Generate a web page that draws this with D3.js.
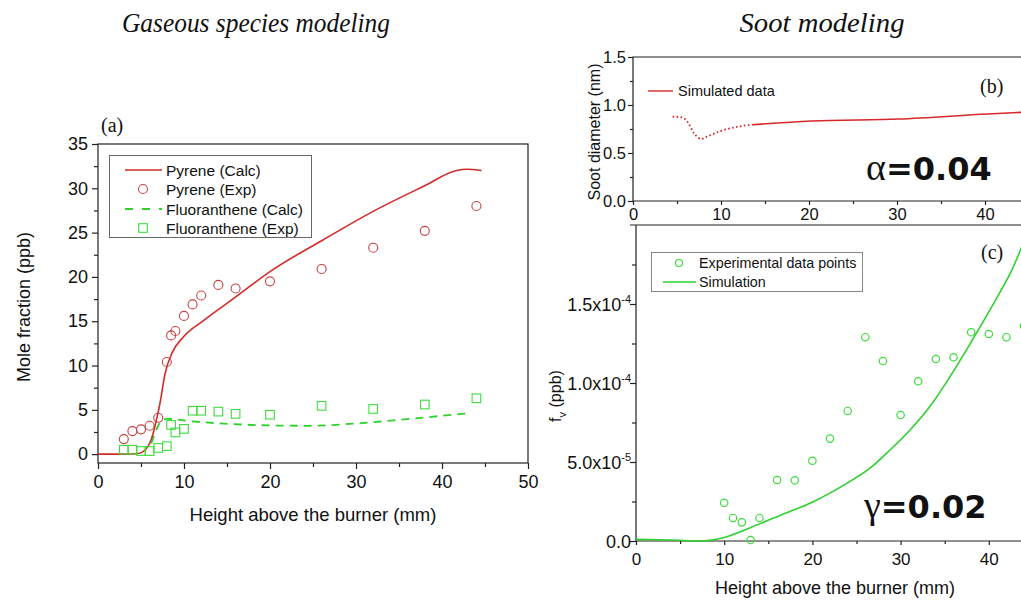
<!DOCTYPE html>
<html>
<head>
<meta charset="utf-8">
<script src="https://cdn.jsdelivr.net/npm/d3@7"></script>
<style>
  body { margin: 0; background: #fff; }
  svg { display: block; }
  text { font-family: "Liberation Sans", Arial, sans-serif; fill: #111; }
  .axis path, .axis line { stroke: #222; stroke-width: 1.2; }
  .axis text { font-family: "Liberation Sans", Arial, sans-serif; fill: #111; }
</style>
</head>
<body>
<svg id="fig" width="1021" height="603"></svg>
<script>
// ---------- (a) gaseous species: mole fraction vs height above burner ----------
const pyreneCalcX = [0, 3, 4.5, 5.2, 5.6, 6.0, 6.4, 6.8, 7.2, 7.8, 8.6, 9.9, 12.3, 16.1, 20, 26.2, 32, 37.8, 41.7, 42.9, 44.6];
const pyreneCalcY = [0, 0, 0.05, 0.25, 0.6, 1.2, 2.3, 3.9, 5.7, 9.1, 11.4, 13.2, 15.1, 17.8, 20.6, 24.2, 27.4, 30.2, 32.0, 32.15, 32.0];

const pyreneExpX = [3, 4, 5, 6, 7, 8, 8.5, 9, 10, 11, 12, 14, 16, 20, 26, 32, 38, 44];
const pyreneExpY = [1.7, 2.6, 2.8, 3.2, 4.1, 10.4, 13.4, 13.9, 15.6, 16.9, 17.9, 19.1, 18.7, 19.5, 20.9, 23.3, 25.2, 28.0];

const fluorCalcX = [6.2, 6.6, 7.0, 7.4, 8.0, 10.7, 15.7, 20, 24.3, 30.1, 35.9, 42.9];
const fluorCalcY = [1.2, 2.3, 3.2, 3.8, 3.99, 3.72, 3.39, 3.24, 3.2, 3.46, 3.95, 4.6];

const fluorExpX = [3, 4, 5, 6, 7, 8, 8.5, 9, 10, 11, 12, 14, 16, 20, 26, 32, 38, 44];
const fluorExpY = [0.5, 0.5, 0.35, 0.35, 0.7, 0.9, 3.3, 2.45, 2.85, 4.9, 4.9, 4.8, 4.55, 4.45, 5.45, 5.1, 5.6, 6.3];

const aXTicks = [0, 10, 20, 30, 40, 50];
const aYTicks = [0, 5, 10, 15, 20, 25, 30, 35];
const aLegend = ["Pyrene (Calc)", "Pyrene (Exp)", "Fluoranthene (Calc)", "Fluoranthene (Exp)"];

// ---------- (b) soot diameter ----------
const diamEarlyX = [4.5, 5.6, 6.15, 6.9, 7.4, 7.75, 8.4, 10, 11.9, 13.5];
const diamEarlyY = [0.878, 0.87, 0.83, 0.71, 0.66, 0.646, 0.67, 0.73, 0.774, 0.795];
const diamX = [13.5, 20.3, 30.2, 40.3, 44.6];
const diamY = [0.795, 0.833, 0.854, 0.906, 0.925];

const bXTicks = [0, 10, 20, 30, 40];
const bYTicks = [0.0, 0.5, 1.0, 1.5];

// ---------- (c) soot volume fraction ----------
const fvExpX = [10, 11, 12, 13, 14, 16, 18, 20, 22, 24, 26, 28, 30, 32, 34, 36, 38, 40, 42, 44];
const fvExpY = [2.42e-5, 1.46e-5, 1.18e-5, 0.06e-5, 1.46e-5, 3.86e-5, 3.84e-5, 5.08e-5, 6.48e-5, 8.23e-5,
                1.29e-4, 1.139e-4, 7.97e-5, 1.011e-4, 1.152e-4, 1.163e-4, 1.321e-4, 1.31e-4, 1.29e-4, 1.36e-4];
const fvSimX = [0, 5, 7.5, 9.9, 14.06, 16.33, 20.1, 23.9, 26.5, 28.8, 31.07, 33.3, 35.6, 37.9, 40.1, 42.4, 43.65, 44.6];
const fvSimY = [1.0e-6, 0.5e-6, 0, 2.1e-6, 1.1e-5, 1.62e-5, 2.49e-5, 3.65e-5, 4.6e-5, 5.76e-5,
                7.03e-5, 8.5e-5, 1.04e-4, 1.25e-4, 1.46e-4, 1.69e-4, 1.85e-4, 1.98e-4];

const cXTicks = [0, 10, 20, 30, 40];
const cYTicks = [0, 5e-5, 1e-4, 1.5e-4];
const cYTickText = [["0.0", ""], ["5.0x10", "-5"], ["1.0x10", "-4"], ["1.5x10", "-4"]];

const RED = "#d42a2a";
const RED_PT = "#c94444";
const GREEN = "#2fd12f";
const GREEN_PT = "#3ddc3d";
const FRAME = "#222";

const svg = d3.select("#fig");
const zip = (xs, ys) => xs.map((x, i) => [x, ys[i]]);

function minorBetween(ticks) {
  const out = [];
  for (let i = 0; i < ticks.length - 1; i++) out.push((ticks[i] + ticks[i + 1]) / 2);
  return out;
}

// ---------- titles ----------
svg.append("text").attr("x", 256).attr("y", 32).attr("text-anchor", "middle")
  .attr("textLength", 268).attr("lengthAdjust", "spacingAndGlyphs")
  .style("font-family", "'Liberation Serif', 'Times New Roman', serif")
  .style("font-style", "italic").style("font-size", "28px")
  .text("Gaseous species modeling");
svg.append("text").attr("x", 822).attr("y", 32).attr("text-anchor", "middle")
  .attr("textLength", 165).attr("lengthAdjust", "spacingAndGlyphs")
  .style("font-family", "'Liberation Serif', 'Times New Roman', serif")
  .style("font-style", "italic").style("font-size", "28px")
  .text("Soot modeling");

// ================= panel (a) =================
const xA = d3.scaleLinear().domain([0, 50]).range([98, 528]);
const yA = d3.scaleLinear().domain([-1, 35]).range([463, 144]);

const gA = svg.append("g");
gA.append("rect").attr("x", xA(0)).attr("y", yA(35)).attr("width", xA(50) - xA(0)).attr("height", yA(-1) - yA(35))
  .attr("fill", "none").attr("stroke", FRAME).attr("stroke-width", 1.2);

const axAx = gA.append("g").attr("class", "axis").attr("transform", `translate(0,${yA(-1)})`)
  .call(d3.axisBottom(xA).tickValues(aXTicks).tickSize(6).tickPadding(6).tickFormat(d3.format("d")));
axAx.select(".domain").remove();
axAx.selectAll("text").style("font-size", "18px");
const axAxMinor = gA.append("g").attr("class", "axis").attr("transform", `translate(0,${yA(-1)})`)
  .call(d3.axisBottom(xA).tickValues(minorBetween(aXTicks)).tickSize(4).tickFormat(""));
axAxMinor.select(".domain").remove();

const axAy = gA.append("g").attr("class", "axis").attr("transform", `translate(${xA(0)},0)`)
  .call(d3.axisLeft(yA).tickValues(aYTicks).tickSize(6).tickPadding(4).tickFormat(d3.format("d")));
axAy.select(".domain").remove();
axAy.selectAll("text").style("font-size", "18px");
const axAyMinor = gA.append("g").attr("class", "axis").attr("transform", `translate(${xA(0)},0)`)
  .call(d3.axisLeft(yA).tickValues(minorBetween(aYTicks)).tickSize(4).tickFormat(""));
axAyMinor.select(".domain").remove();

gA.append("text").attr("transform", `translate(30,307) rotate(-90)`).attr("text-anchor", "middle")
  .style("font-size", "18px").text("Mole fraction (ppb)");
gA.append("text").attr("x", 313).attr("y", 521).attr("text-anchor", "middle")
  .style("font-size", "18.5px").text("Height above the burner (mm)");
gA.append("text").attr("x", 101).attr("y", 132)
  .style("font-family", "'Liberation Serif', 'Times New Roman', serif").style("font-size", "20px").text("(a)");

const lineA = d3.line().x(d => xA(d[0])).y(d => yA(d[1])).curve(d3.curveMonotoneX);

gA.append("path").datum(zip(fluorCalcX, fluorCalcY)).attr("d", lineA)
  .attr("fill", "none").attr("stroke", GREEN).attr("stroke-width", 1.8).attr("stroke-dasharray", "8,6");
gA.append("path").datum(zip(pyreneCalcX, pyreneCalcY)).attr("d", lineA)
  .attr("fill", "none").attr("stroke", RED).attr("stroke-width", 1.6);

gA.selectAll("circle.pyr").data(zip(pyreneExpX, pyreneExpY)).join("circle").attr("class", "pyr")
  .attr("cx", d => xA(d[0])).attr("cy", d => yA(d[1])).attr("r", 4.5)
  .attr("fill", "none").attr("stroke", RED_PT).attr("stroke-width", 1.1);
gA.selectAll("rect.flu").data(zip(fluorExpX, fluorExpY)).join("rect").attr("class", "flu")
  .attr("x", d => xA(d[0]) - 4.3).attr("y", d => yA(d[1]) - 4.3).attr("width", 8.6).attr("height", 8.6)
  .attr("fill", "none").attr("stroke", GREEN_PT).attr("stroke-width", 1.1);

// legend (a)
const legA = gA.append("g");
legA.append("rect").attr("x", 109.5).attr("y", 155.5).attr("width", 202).attr("height", 82)
  .attr("fill", "#fff").attr("stroke", "#666").attr("stroke-width", 1);
const legRowsA = [170, 189, 209, 228];
legA.append("line").attr("x1", 125).attr("x2", 162).attr("y1", legRowsA[0]).attr("y2", legRowsA[0])
  .attr("stroke", RED).attr("stroke-width", 1.6);
legA.append("circle").attr("cx", 143).attr("cy", legRowsA[1]).attr("r", 4.5)
  .attr("fill", "none").attr("stroke", RED_PT).attr("stroke-width", 1.1);
legA.append("line").attr("x1", 125).attr("x2", 162).attr("y1", legRowsA[2]).attr("y2", legRowsA[2])
  .attr("stroke", GREEN).attr("stroke-width", 1.8).attr("stroke-dasharray", "8,9");
legA.append("rect").attr("x", 143 - 4.3).attr("y", legRowsA[3] - 4.3).attr("width", 8.6).attr("height", 8.6)
  .attr("fill", "none").attr("stroke", GREEN_PT).attr("stroke-width", 1.1);
legA.selectAll("text").data(aLegend).join("text")
  .attr("x", 166).attr("y", (d, i) => legRowsA[i] + 5.5)
  .style("font-size", "15.5px").text(d => d);

// ================= panel (b) =================
const xB = d3.scaleLinear().domain([0, 50]).range([633, 1073]);
const yB = d3.scaleLinear().domain([0, 1.5]).range([201, 57]);
const gB = svg.append("g");
gB.append("path").attr("d", `M${xB(50)},${yB(1.5)}H${xB(0)}V${yB(0)}H${xB(50)}`)
  .attr("fill", "none").attr("stroke", FRAME).attr("stroke-width", 1.2);

const bxAx = gB.append("g").attr("class", "axis").attr("transform", `translate(0,${yB(0)})`)
  .call(d3.axisBottom(xB).tickValues(bXTicks).tickSize(4).tickPadding(3).tickFormat(d3.format("d")));
bxAx.select(".domain").remove();
bxAx.selectAll("text").style("font-size", "16.5px");
const bxAxMinor = gB.append("g").attr("class", "axis").attr("transform", `translate(0,${yB(0)})`)
  .call(d3.axisBottom(xB).tickValues([5, 15, 25, 35, 45]).tickSize(3).tickFormat(""));
bxAxMinor.select(".domain").remove();

const byAx = gB.append("g").attr("class", "axis").attr("transform", `translate(${xB(0)},0)`)
  .call(d3.axisLeft(yB).tickValues(bYTicks).tickSize(5).tickPadding(2).tickFormat(d3.format(".1f")));
byAx.select(".domain").remove();
byAx.selectAll("text").style("font-size", "16.5px");
const byAxMinor = gB.append("g").attr("class", "axis").attr("transform", `translate(${xB(0)},0)`)
  .call(d3.axisLeft(yB).tickValues([0.25, 0.75, 1.25]).tickSize(3).tickFormat(""));
byAxMinor.select(".domain").remove();

gB.append("text").attr("transform", `translate(600,132) rotate(-90)`).attr("text-anchor", "middle")
  .style("font-size", "16px").text("Soot diameter (nm)");

const lineB = d3.line().x(d => xB(d[0])).y(d => yB(d[1])).curve(d3.curveMonotoneX);
gB.append("path").datum(zip(diamEarlyX, diamEarlyY)).attr("d", lineB)
  .attr("fill", "none").attr("stroke", RED).attr("stroke-width", 1.8).attr("stroke-dasharray", "1.6,2.4");
gB.append("path").datum(zip(diamX, diamY)).attr("d", lineB)
  .attr("fill", "none").attr("stroke", RED).attr("stroke-width", 1.6);

gB.append("line").attr("x1", 648).attr("x2", 673).attr("y1", 91).attr("y2", 91)
  .attr("stroke", RED).attr("stroke-width", 1.4);
gB.append("text").attr("x", 678).attr("y", 96).style("font-size", "14.5px").text("Simulated data");
gB.append("text").attr("x", 980).attr("y", 93)
  .style("font-family", "'Liberation Serif', 'Times New Roman', serif").style("font-size", "20px").text("(b)");

const alpha = gB.append("text").attr("x", 866).attr("y", 180).style("font-size", "32px");
alpha.append("tspan").style("font-family", "'Liberation Serif', 'Times New Roman', serif").style("font-size", "38px").text("α");
alpha.append("tspan").style("font-family", "'DejaVu Sans', sans-serif").style("font-weight", "bold").text("=0.04");

// ================= panel (c) =================
const xC = d3.scaleLinear().domain([0, 50]).range([636, 1077]);
const yC = d3.scaleLinear().domain([0, 2e-4]).range([541, 225]);
const gC = svg.append("g");
gC.append("path").attr("d", `M${xC(50)},${yC(2e-4)}H${xC(0) - 6}M${xC(0)},${yC(2e-4)}V${yC(0)}H${xC(50)}`)
  .attr("fill", "none").attr("stroke", FRAME).attr("stroke-width", 1.2);

const cxAx = gC.append("g").attr("class", "axis").attr("transform", `translate(0,${yC(0)})`)
  .call(d3.axisBottom(xC).tickValues(cXTicks).tickSize(4).tickPadding(8).tickFormat(d3.format("d")));
cxAx.select(".domain").remove();
cxAx.selectAll("text").style("font-size", "17px");
const cxAxMinor = gC.append("g").attr("class", "axis").attr("transform", `translate(0,${yC(0)})`)
  .call(d3.axisBottom(xC).tickValues([5, 15, 25, 35, 45]).tickSize(3).tickFormat(""));
cxAxMinor.select(".domain").remove();

const cyAx = gC.append("g").attr("class", "axis").attr("transform", `translate(${xC(0)},0)`)
  .call(d3.axisLeft(yC).tickValues(cYTicks).tickSize(6).tickFormat(""));
cyAx.select(".domain").remove();
const cyAxMinor = gC.append("g").attr("class", "axis").attr("transform", `translate(${xC(0)},0)`)
  .call(d3.axisLeft(yC).tickValues([2.5e-5, 7.5e-5, 1.25e-4, 1.75e-4]).tickSize(4).tickFormat(""));
cyAxMinor.select(".domain").remove();

cYTicks.forEach((v, i) => {
  const t = gC.append("text").attr("x", 631).attr("y", yC(v) + 6.5).attr("text-anchor", "end")
    .style("font-size", "18px");
  t.append("tspan").text(cYTickText[i][0]);
  if (cYTickText[i][1]) t.append("tspan").attr("dy", -8).style("font-size", "11px").text(cYTickText[i][1]);
});

const fvLabel = gC.append("text").attr("transform", `translate(561,396) rotate(-90)`).attr("text-anchor", "middle")
  .style("font-size", "16px");
fvLabel.append("tspan").text("f");
fvLabel.append("tspan").attr("dy", 5).style("font-size", "11px").text("v");
fvLabel.append("tspan").attr("dy", -5).text(" (ppb)");

gC.append("text").attr("x", 835).attr("y", 594).attr("text-anchor", "middle")
  .style("font-size", "18px").text("Height above the burner (mm)");

gC.append("clipPath").attr("id", "clipC").append("rect")
  .attr("x", xC(0)).attr("y", yC(2e-4)).attr("width", xC(50) - xC(0)).attr("height", yC(0) - yC(2e-4) + 2);

const lineC = d3.line().x(d => xC(d[0])).y(d => yC(d[1])).curve(d3.curveCatmullRom.alpha(0.5));
gC.append("path").datum(zip(fvSimX, fvSimY)).attr("d", lineC).attr("clip-path", "url(#clipC)")
  .attr("fill", "none").attr("stroke", GREEN).attr("stroke-width", 1.6);
gC.selectAll("circle.fv").data(zip(fvExpX, fvExpY)).join("circle").attr("class", "fv")
  .attr("cx", d => xC(d[0])).attr("cy", d => yC(d[1])).attr("r", 3.7)
  .attr("fill", "none").attr("stroke", GREEN_PT).attr("stroke-width", 1.2);

// legend (c)
gC.append("rect").attr("x", 651.5).attr("y", 252.5).attr("width", 211).attr("height", 39)
  .attr("fill", "#fff").attr("stroke", "#888").attr("stroke-width", 1);
gC.append("circle").attr("cx", 679).attr("cy", 263).attr("r", 3.5)
  .attr("fill", "none").attr("stroke", GREEN_PT).attr("stroke-width", 1.2);
gC.append("line").attr("x1", 663).attr("x2", 696).attr("y1", 282).attr("y2", 282)
  .attr("stroke", GREEN).attr("stroke-width", 1.6);
gC.append("text").attr("x", 699).attr("y", 268).style("font-size", "14.3px").text("Experimental data points");
gC.append("text").attr("x", 699).attr("y", 287).style("font-size", "14.3px").text("Simulation");

gC.append("text").attr("x", 981).attr("y", 259)
  .style("font-family", "'Liberation Serif', 'Times New Roman', serif").style("font-size", "20px").text("(c)");

const gamma = gC.append("text").attr("x", 864).attr("y", 518).style("font-size", "32px");
gamma.append("tspan").style("font-family", "'Liberation Serif', 'Times New Roman', serif").style("font-size", "38px").text("γ");
gamma.append("tspan").style("font-family", "'DejaVu Sans', sans-serif").style("font-weight", "bold").text("=0.02");
</script>
</body>
</html>
